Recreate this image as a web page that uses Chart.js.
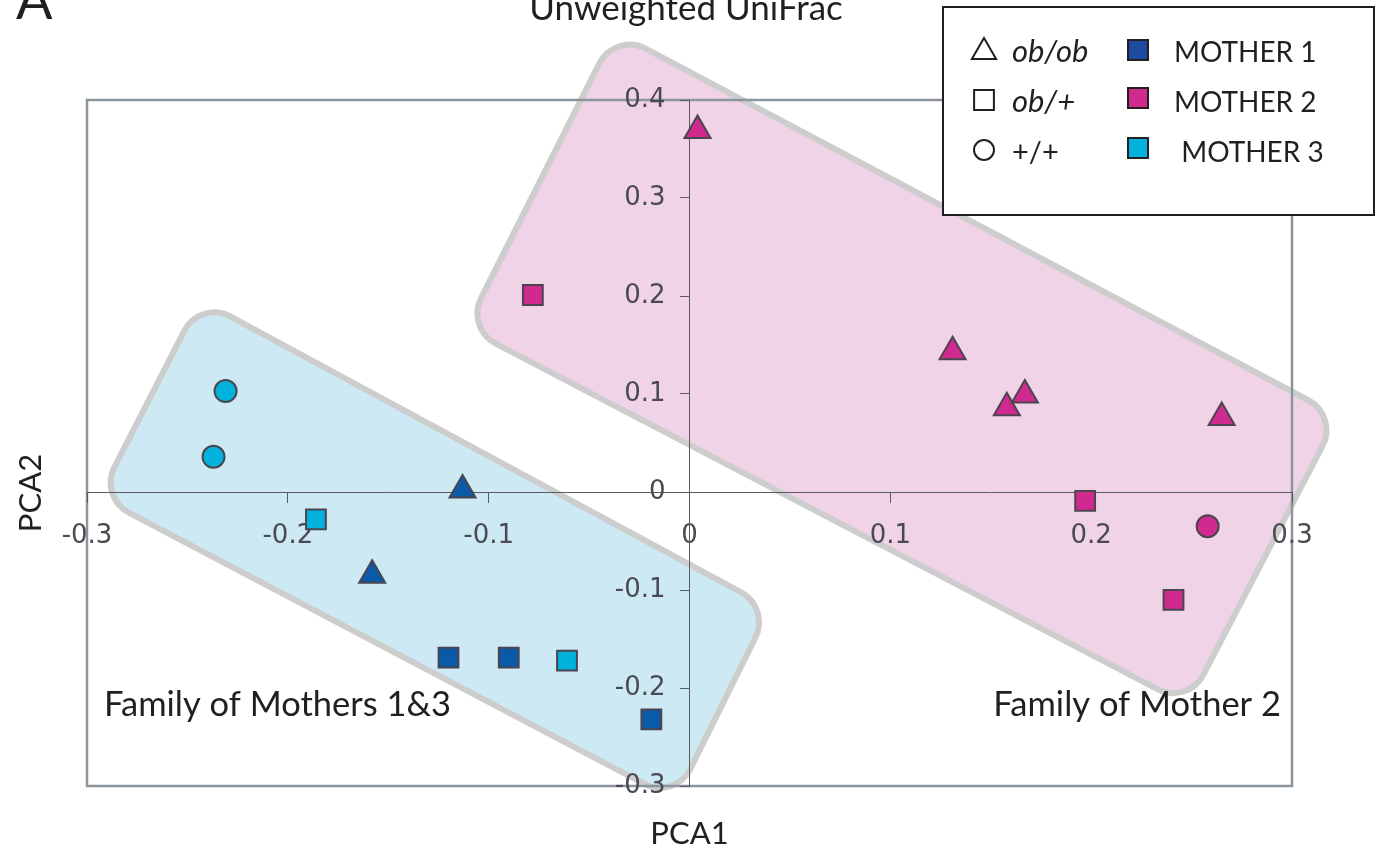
<!DOCTYPE html>
<html>
<head>
<meta charset="utf-8">
<script src="https://cdn.jsdelivr.net/npm/chart.js@4.4.1/dist/chart.umd.min.js"></script>
<style>
  html, body { margin: 0; padding: 0; background: #fff; }
  #wrap { width: 1375px; height: 850px; }
</style>
</head>
<body>
<div id="wrap"><canvas id="pca" width="1375" height="850"></canvas></div>
<script>
// tick values
const xTicks = [-0.3, -0.2, -0.1, 0, 0.1, 0.2, 0.3];
const yTicks = [-0.3, -0.2, -0.1, 0, 0.1, 0.2, 0.3, 0.4];

// samples per mother (PCA1, PCA2, genotype)
const mother1X = [-0.113, -0.158, -0.120, -0.090, -0.019];
const mother1Y = [0.002, -0.085, -0.169, -0.169, -0.232];
const mother1G = ['ob/ob', 'ob/ob', 'ob/+', 'ob/+', 'ob/+'];

const mother2X = [0.004, -0.078, 0.131, 0.158, 0.167, 0.265, 0.197, 0.258, 0.241];
const mother2Y = [0.369, 0.201, 0.143, 0.086, 0.099, 0.076, -0.009, -0.035, -0.110];
const mother2G = ['ob/ob', 'ob/+', 'ob/ob', 'ob/ob', 'ob/ob', 'ob/ob', 'ob/+', '+/+', 'ob/+'];

const mother3X = [-0.231, -0.237, -0.186, -0.061];
const mother3Y = [0.103, 0.036, -0.028, -0.172];
const mother3G = ['+/+', '+/+', 'ob/+', 'ob/+'];

const motherLabels = ['MOTHER 1', 'MOTHER 2', ' MOTHER 3'];
const motherColors = ['#0a5aa8', '#d02a8f', '#00b2dc'];
const legendSwatches = ['#1d4aa0', '#d02a8f', '#00b2dc'];
const genotypeLabels = ['ob/ob', 'ob/+', '+/+'];

// family groupings, corners in data units
const family13X = [-0.2437, 0.0401, -0.0072, -0.2940];
const family13Y = [0.1959, -0.1184, -0.3143, -0.0051];
const family2X = [-0.0371, 0.3230, 0.2480, -0.1113];
const family2Y = [0.4690, 0.0775, -0.2173, 0.1673];

const styleOf = { 'ob/ob': 'triangle', 'ob/+': 'rect', '+/+': 'circle' };
const radiusOf = { triangle: 15, rect: 14, circle: 11 };

function toPoints(xs, ys) {
    return xs.map((x, i) => ({ x: x, y: ys[i] }));
}

function makeSet(label, xs, ys, gs, color) {
    const styles = gs.map(g => styleOf[g]);
    return {
        label: label,
        data: toPoints(xs, ys),
        pointStyle: styles,
        pointRadius: styles.map(s => radiusOf[s]),
        pointHoverRadius: styles.map(s => radiusOf[s]),
        backgroundColor: color,
        borderColor: '#4a4550',
        pointBorderWidth: 2,
        showLine: false
    };
}

function roundedPoly(ctx, pts, r) {
    const n = pts.length;
    const a = pts[n - 1], b = pts[0];
    ctx.beginPath();
    ctx.moveTo((a.x + b.x) / 2, (a.y + b.y) / 2);
    for (let i = 0; i < n; i++) {
        const p = pts[i], q = pts[(i + 1) % n];
        ctx.arcTo(p.x, p.y, q.x, q.y, r);
    }
    ctx.closePath();
}

// nudge label items of a value-positioned axis
function shiftLabels(scale, chartArea, dx, dy) {
    const items = scale.getLabelItems(chartArea);
    if (items._shifted) return;
    items.forEach(it => {
        if (it.options && it.options.translation) {
            it.options.translation[0] += dx;
            it.options.translation[1] += dy;
        }
    });
    items._shifted = true;
}

const textFont = 'Lato, "Open Sans", sans-serif';

const decor = {
    id: 'decor',
    beforeDraw(chart) {
        const { ctx, chartArea, scales } = chart;

        shiftLabels(scales.y, chartArea, -24, 0);
        shiftLabels(scales.x, chartArea, 0, 5);

        const groups = [
            [family13X, family13Y, '#cde9f3'],
            [family2X, family2Y, '#f0d3e6']
        ];
        ctx.save();
        groups.forEach(([xs, ys, fill]) => {
            const pts = xs.map((x, i) => ({
                x: scales.x.getPixelForValue(x),
                y: scales.y.getPixelForValue(ys[i])
            }));
            roundedPoly(ctx, pts, 34);
            ctx.fillStyle = fill;
            ctx.fill();
            ctx.lineWidth = 6;
            ctx.strokeStyle = '#cdcdcd';
            ctx.stroke();
        });
        // outer frame
        ctx.lineWidth = 2.5;
        ctx.strokeStyle = '#8c959c';
        ctx.strokeRect(chartArea.left, chartArea.top,
            chartArea.right - chartArea.left, chartArea.bottom - chartArea.top);
        ctx.restore();
    },
    afterDraw(chart) {
        const { ctx, chartArea } = chart;
        const midX = (chartArea.left + chartArea.right) / 2;
        ctx.save();
        ctx.fillStyle = '#231f20';

        ctx.font = '54px ' + textFont;
        ctx.textAlign = 'left';
        ctx.textBaseline = 'alphabetic';
        ctx.fillText('A', 16, 19);

        ctx.font = '35px ' + textFont;
        ctx.textAlign = 'center';
        ctx.fillText('Unweighted UniFrac', 686, 20);

        ctx.font = '31px ' + textFont;
        ctx.fillText('PCA1', midX, 844);
        ctx.save();
        ctx.translate(41, 493);
        ctx.rotate(-Math.PI / 2);
        ctx.fillText('PCA2', 0, 0);
        ctx.restore();

        ctx.font = '34.5px ' + textFont;
        ctx.textAlign = 'left';
        ctx.fillText('Family of Mothers 1&3', 104, 716);
        ctx.textAlign = 'right';
        ctx.fillText('Family of Mother 2', 1281, 716);

        // legend box
        ctx.fillStyle = '#fff';
        ctx.fillRect(943, 7, 431, 208);
        ctx.lineWidth = 2;
        ctx.strokeStyle = '#231f20';
        ctx.strokeRect(943, 7, 431, 208);

        const rowY = [52, 100, 150];
        const baseY = [62, 112, 162];
        genotypeLabels.forEach((g, i) => {
            ctx.fillStyle = 'rgba(0,0,0,0)';
            ctx.strokeStyle = '#231f20';
            ctx.lineWidth = 2;
            const st = styleOf[g];
            Chart.helpers.drawPoint(ctx, {
                pointStyle: st,
                radius: st === 'circle' ? 10 : 14,
                rotation: 0,
                borderWidth: 2
            }, 984, rowY[i]);
            ctx.fillStyle = '#231f20';
            ctx.textAlign = 'left';
            ctx.font = (g === '+/+' ? '29px ' : 'italic 31px ') + textFont;
            ctx.fillText(g, 1012, baseY[i]);
        });
        motherLabels.forEach((m, i) => {
            ctx.fillStyle = legendSwatches[i];
            ctx.fillRect(1128, rowY[i] - 12, 20, 20);
            ctx.strokeStyle = '#231f20';
            ctx.lineWidth = 2;
            ctx.strokeRect(1128, rowY[i] - 12, 20, 20);
            ctx.fillStyle = '#231f20';
            ctx.font = '28px ' + textFont;
            ctx.fillText(m, 1174, baseY[i]);
        });
        ctx.restore();
    }
};

function fmt(v) {
    return v === 0 ? '0' : v.toFixed(1);
}

const tickFont = { family: 'DejaVu Sans', size: 26 };

new Chart(document.getElementById('pca').getContext('2d'), {
    type: 'scatter',
    data: {
        datasets: [
            makeSet('MOTHER 1', mother1X, mother1Y, mother1G, motherColors[0]),
            makeSet('MOTHER 2', mother2X, mother2Y, mother2G, motherColors[1]),
            makeSet('MOTHER 3', mother3X, mother3Y, mother3G, motherColors[2])
        ]
    },
    options: {
        responsive: false,
        animation: false,
        layout: { padding: { left: 87, right: 83, top: 100, bottom: 64 } },
        plugins: { legend: { display: false }, tooltip: { enabled: false } },
        scales: {
            x: {
                type: 'linear',
                min: -0.3,
                max: 0.3,
                position: { y: 0 },
                afterBuildTicks: s => { s.ticks = xTicks.map(v => ({ value: v })); },
                ticks: { callback: fmt, font: tickFont, color: '#4a4a52', padding: 14, maxRotation: 0, autoSkip: false },
                grid: { drawOnChartArea: false, drawTicks: true, tickLength: 10, color: '#5a5a60' },
                border: { display: true, color: '#5a5a60', width: 1 }
            },
            y: {
                type: 'linear',
                min: -0.3,
                max: 0.4,
                position: { x: 0 },
                afterBuildTicks: s => { s.ticks = yTicks.map(v => ({ value: v })); },
                ticks: { callback: fmt, font: tickFont, color: '#4a4a52', padding: 14, autoSkip: false },
                grid: { drawOnChartArea: false, drawTicks: true, tickLength: 9, color: '#5a5a60' },
                border: { display: true, color: '#5a5a60', width: 1 }
            }
        }
    },
    plugins: [decor]
});
</script>
</body>
</html>
